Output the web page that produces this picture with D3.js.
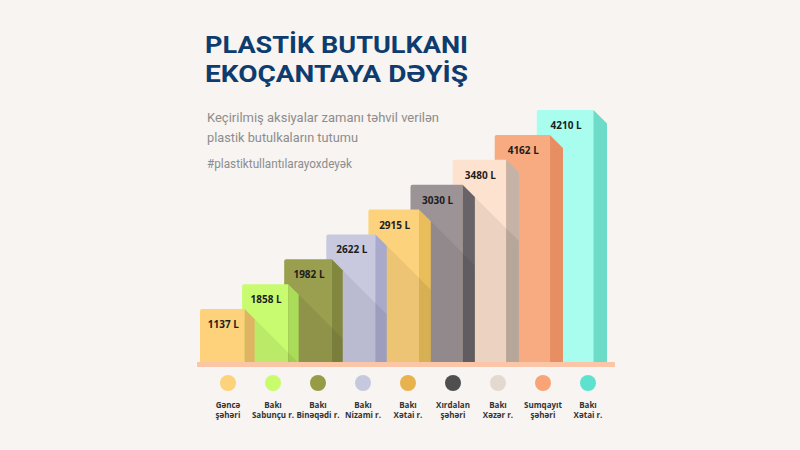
<!DOCTYPE html>
<html><head><meta charset="utf-8">
<script src="https://cdn.jsdelivr.net/npm/d3@7"></script>
<style>html,body{margin:0;padding:0;background:#f7f4f1;}svg{display:block}</style>
</head><body>
<script>
// ---- data ----
const labelTop = ["Gəncə","Bakı","Bakı","Bakı","Bakı","Xırdalan","Bakı","Sumqayıt","Bakı"];
const labelBottom = ["şəhəri","Sabunçu r.","Binəqədi r.","Nizami r.","Xətai r.","şəhəri","Xəzər r.","şəhəri","Xətai r."];
const values = [1137,1858,1982,2622,2915,3030,3480,4162,4210];
const unit = "L";
const frontColors = ["#fdd27b","#c9fb70","#9a9e4f","#c8c9df","#fdd27c","#9c9396","#fde3cf","#f8ab80","#a8fdee"];
const sideColors  = ["#e0b463","#a9dc58","#82873f","#a9aacb","#e8bd5a","#686366","#c4b3a6","#e78f62","#6cdcc9"];
const dotColors   = ["#fcd27a","#c8fc6c","#959c45","#c6c8de","#e8b24f","#4f4f4f","#e4d9cf","#f9a477","#5de2cf"];
const titleLines = ["PLASTİK BUTULKANI","EKOÇANTAYA DƏYİŞ"];
const subtitleLines = ["Keçirilmiş aksiyalar zamanı təhvil verilən","plastik butulkaların tutumu"];
const hashtag = "#plastiktullantılarayoxdeyək";

const W = 800, H = 450;
const svg = d3.select("body").append("svg").attr("width", W).attr("height", H);
svg.append("rect").attr("width", W).attr("height", H).attr("fill", "#f7f4f1");

// titles
const tg = svg.append("g").attr("font-family", "Roboto, sans-serif").attr("font-weight", 700).attr("fill", "#0e3c6e");
titleLines.forEach((t, i) => {
  tg.append("text").attr("x", 205).attr("y", 53 + i * 29).attr("font-size", 24.5)
    .attr("textLength", 263).attr("lengthAdjust", "spacingAndGlyphs").text(t);
});
const sg = svg.append("g").attr("font-family", "Roboto, sans-serif").attr("fill", "#8d8d8d");
sg.append("text").attr("x", 207).attr("y", 122).attr("font-size", 13.5).attr("textLength", 232).attr("lengthAdjust", "spacingAndGlyphs").text(subtitleLines[0]);
sg.append("text").attr("x", 207).attr("y", 142).attr("font-size", 13.5).attr("textLength", 151).attr("lengthAdjust", "spacingAndGlyphs").text(subtitleLines[1]);
sg.append("text").attr("x", 207).attr("y", 168).attr("font-size", 13.5).attr("textLength", 145).attr("lengthAdjust", "spacingAndGlyphs").text(hashtag);

// scales: the infographic steps its bars by rank of value (a staircase)
const n = values.length;
const idx = d3.range(n);
const order = d3.sort(idx, i => values[i]);
const rank = idx.map(i => order.indexOf(i));
const x = d3.scaleBand().domain(idx).range([200, 578.9]).padding(0);
const base = 362;
const y = d3.scaleLinear().domain([0, n - 1]).range([base - 53, base - 252]);
const bw = x.bandwidth();
const frontW = i => bw * 1.06 + 1.5 * i;
const sideW = i => 10 + 0.45 * i;
const barTop = i => y(rank[i]);

const defs = svg.append("defs");
const barsG = svg.append("g");
const labelsG = svg.append("g").attr("font-family", "'Open Sans', sans-serif")
  .attr("font-weight", 700).attr("font-size", 10).attr("fill", "#1d1d1d").attr("text-anchor", "middle");

// draw from right to left so left bars sit in front
idx.slice().reverse().forEach(i => {
  const L = x(i), R = L + frontW(i), s = sideW(i), S = R + s, T = barTop(i);
  const g = barsG.append("g");
  const clipId = "clip" + i;
  defs.append("clipPath").attr("id", clipId).append("path")
    .attr("d", `M${L},${base}V${T+2}Q${L},${T} ${L+2},${T}H${R}L${S},${T+s}V${base}Z`);
  g.append("path").attr("d", `M${L},${base}V${T+2}Q${L},${T} ${L+2},${T}H${R}V${base}Z`).attr("fill", frontColors[i]);
  g.append("path").attr("d", `M${R},${T}L${S},${T+s}V${base}H${R}Z`).attr("fill", sideColors[i]);
  if (i > 0 && i < 7) {
    const j = i - 1;
    const Rp = x(j) + frontW(j) + sideW(j), Tp = barTop(j) + sideW(j);
    g.append("path").attr("clip-path", `url(#${clipId})`)
      .attr("d", `M${Rp},${Tp}L${Rp+400},${Tp+400}V${base}H${Rp-20}V${Tp}Z`)
      .attr("fill", "#000").attr("opacity", 0.065);
  }
  labelsG.append("text").attr("x", L + frontW(i) / 2 + 1).attr("y", T + 19)
    .text(`${values[i]} ${unit}`);
});
labelsG.raise();

// base strip
svg.append("rect").attr("x", 197).attr("y", base).attr("width", 418).attr("height", 5).attr("fill", "#fbc5a7");

// legend
const lx = d3.scalePoint().domain(idx).range([228, 588]);
const lg = svg.append("g").attr("font-family", "'Open Sans', sans-serif").attr("font-weight", 700)
  .attr("font-size", 8).attr("fill", "#333").attr("text-anchor", "middle");
idx.forEach(i => {
  lg.append("circle").attr("cx", lx(i)).attr("cy", 383).attr("r", 8).attr("fill", dotColors[i]);
  lg.append("text").attr("x", lx(i)).attr("y", 408).text(labelTop[i]);
  lg.append("text").attr("x", lx(i)).attr("y", 417.5).text(labelBottom[i]);
});
</script>
</body></html>
